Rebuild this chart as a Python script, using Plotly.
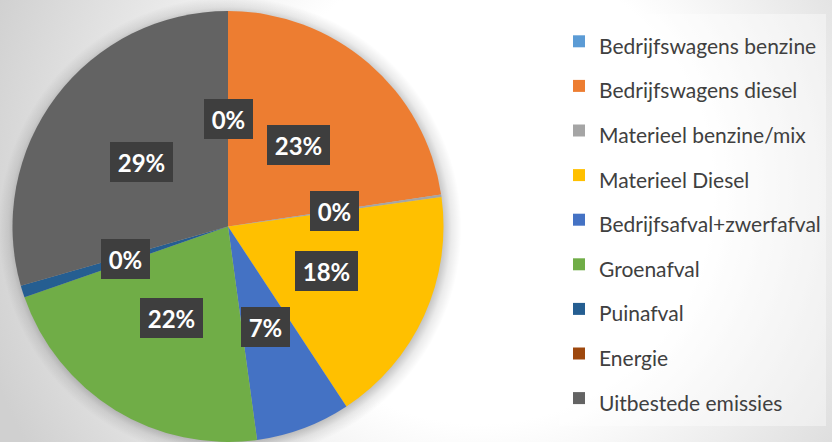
import math
import base64
import plotly.graph_objects as go

# ---- data ----
categories = [
    "Bedrijfswagens benzine",
    "Bedrijfswagens diesel",
    "Materieel benzine/mix",
    "Materieel Diesel",
    "Bedrijfsafval+zwerfafval",
    "Groenafval",
    "Puinafval",
    "Energie",
    "Uitbestede emissies",
]
values = [0.0, 22.6, 0.2, 17.9, 7.1, 21.8, 0.9, 0.0, 29.4]
pct_labels = ["0%", "23%", "0%", "18%", "7%", "22%", "0%", "", "29%"]
colors = ["#5B9BD5", "#ED7D31", "#A5A5A5", "#FFC000", "#4472C4",
          "#70AD47", "#255E91", "#9E480E", "#636363"]

# ---- layout constants ----
W, H = 832, 442
dom_x = [11 / W, 445 / W]
dom_y = [0.0, 1 - 11 / H]

wpx = (dom_x[1] - dom_x[0]) * W
hpx = (dom_y[1] - dom_y[0]) * H
R = min(wpx, hpx) / 2
cx = (dom_x[0] + dom_x[1]) / 2
cy = (dom_y[0] + dom_y[1]) / 2
cx_px = cx * W
cy_px = (1 - cy) * H

# background: radial gradient + soft pie shadow (gradient halo)
sr = R + 16
inner = (R - 4) / sr
svg = f"""<svg xmlns='http://www.w3.org/2000/svg' width='{W}' height='{H}' viewBox='0 0 {W} {H}'>
<defs>
<radialGradient id='g' gradientUnits='userSpaceOnUse' cx='480' cy='190' r='520'>
<stop offset='0' stop-color='#ffffff'/>
<stop offset='0.45' stop-color='#ffffff'/>
<stop offset='1' stop-color='#d0d0d0'/>
</radialGradient>
<radialGradient id='s'>
<stop offset='0' stop-color='#000' stop-opacity='0.25'/>
<stop offset='{inner:.3f}' stop-color='#000' stop-opacity='0.25'/>
<stop offset='{(inner + 1) / 2:.3f}' stop-color='#000' stop-opacity='0.08'/>
<stop offset='1' stop-color='#000' stop-opacity='0'/>
</radialGradient>
</defs>
<rect width='{W}' height='{H}' fill='url(#g)'/>
<circle cx='{cx_px + 2:.1f}' cy='{cy_px + 2:.1f}' r='{sr:.1f}' fill='url(#s)'/>
</svg>"""
bg_src = "data:image/svg+xml;base64," + base64.b64encode(svg.encode()).decode()

legend_names = [f"<span style='font-size:21px'>{c}</span>" for c in categories]

fig = go.Figure(
    go.Pie(
        labels=legend_names,
        values=values,
        sort=False,
        direction="clockwise",
        rotation=0,
        textinfo="none",
        hoverinfo="label+percent",
        marker=dict(colors=colors, line=dict(width=0)),
        domain=dict(x=dom_x, y=dom_y),
    )
)

# data labels at half radius, middle angle of each slice
total = sum(values)
annotations = []
cum = 0.0
for v, lab in zip(values, pct_labels):
    mid = (cum + v / 2) / total * 2 * math.pi
    cum += v
    if not lab:
        continue
    ax = cx + 0.5 * R * math.sin(mid) / W
    ay = cy + 0.5 * R * math.cos(mid) / H
    bw = 49 if len(lab) == 2 else 63
    annotations.append(dict(
        x=ax, y=ay, xref="paper", yref="paper", showarrow=False,
        width=bw, height=40, borderpad=0, borderwidth=0,
        xanchor="center", yanchor="middle",
        text=f"<b>{lab}</b>", bgcolor="#3e3e3e",
        font=dict(color="white", size=24, family="Lato"),
    ))

fig.update_layout(
    width=W,
    height=H,
    margin=dict(l=0, r=0, t=0, b=0),
    paper_bgcolor="white",
    plot_bgcolor="white",
    images=[dict(source=bg_src, xref="paper", yref="paper", x=0, y=1,
                 sizex=1, sizey=1, sizing="stretch", layer="below",
                 xanchor="left", yanchor="top")],
    showlegend=True,
    legend=dict(
        x=559 / W, y=1 - 14 / H, xanchor="left", yanchor="top",
        font=dict(family="Lato", size=32, color="#404040"),
        bgcolor="rgba(255,255,255,0.4)",
        borderwidth=0,
        traceorder="normal",
    ),
    annotations=annotations,
)

fig.write_html(
    "out.html",
    config={"displayModeBar": False},
    post_script="document.body.style.margin='0';document.body.style.overflow='hidden';",
)
